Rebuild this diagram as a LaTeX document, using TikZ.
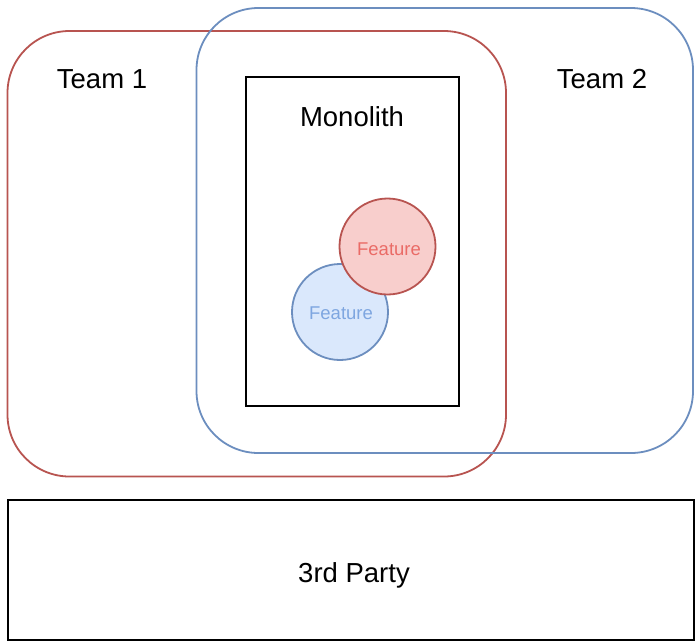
\documentclass[tikz,border=0pt]{standalone}
\usepackage{fontspec}
\setmainfont{Liberation Sans}
\definecolor{redline}{HTML}{B85450}
\definecolor{redfill}{HTML}{F8CECC}
\definecolor{redtext}{HTML}{EA6B66}
\definecolor{blueline}{HTML}{6C8EBF}
\definecolor{bluefill}{HTML}{DAE8FC}
\definecolor{bluetext}{HTML}{7EA6E0}
\begin{document}
\begin{tikzpicture}[x=1pt,y=-1pt,
  teambox/.style={draw, line width=1.8pt, rounded corners=62pt},
  plainbox/.style={draw=black, line width=2pt, fill=white},
  label/.style={font=\fontsize{27.5}{30}\selectfont, inner sep=0pt},
  featurecircle/.style={circle, line width=1.8pt, minimum size=96pt, inner sep=0pt},
  featuretext/.style={font=\fontsize{18.5}{20}\selectfont, inner sep=0pt}]
  \useasboundingbox (0,0) rectangle (695,641);
  \fill[white] (0,0) rectangle (695,641);

  % team boundaries
  \draw[teambox, redline] (7.5,31) rectangle (506,476.5);
  \draw[teambox, blueline] (196.5,8) rectangle (693,453);

  % monolith
  \node[plainbox, minimum width=213pt, minimum height=329pt, inner sep=0pt] (mono) at (352,241.5) {};
  \node[label] (monolbl) at (352,117) {Monolith};

  % features (red one lies over the blue one)
  \node[featurecircle, draw=blueline, fill=bluefill] (featB) at (340,312) {};
  \node[featuretext, text=bluetext] (featBlbl) at (341,313) {Feature};
  \node[featurecircle, draw=redline, fill=redfill] (featA) at (387.5,246.5) {};
  \node[featuretext, text=redtext] (featAlbl) at (389,249.5) {Feature};

  \node[label] (team1) at (102,79) {Team 1};
  \node[label] (team2) at (602,79) {Team 2};

  % third party
  \node[plainbox, minimum width=686pt, minimum height=140pt, inner sep=0pt] (third) at (350.5,570) {};
  \node[label] (thirdlbl) at (354,575.5) {3rd Party};
\end{tikzpicture}
\end{document}
